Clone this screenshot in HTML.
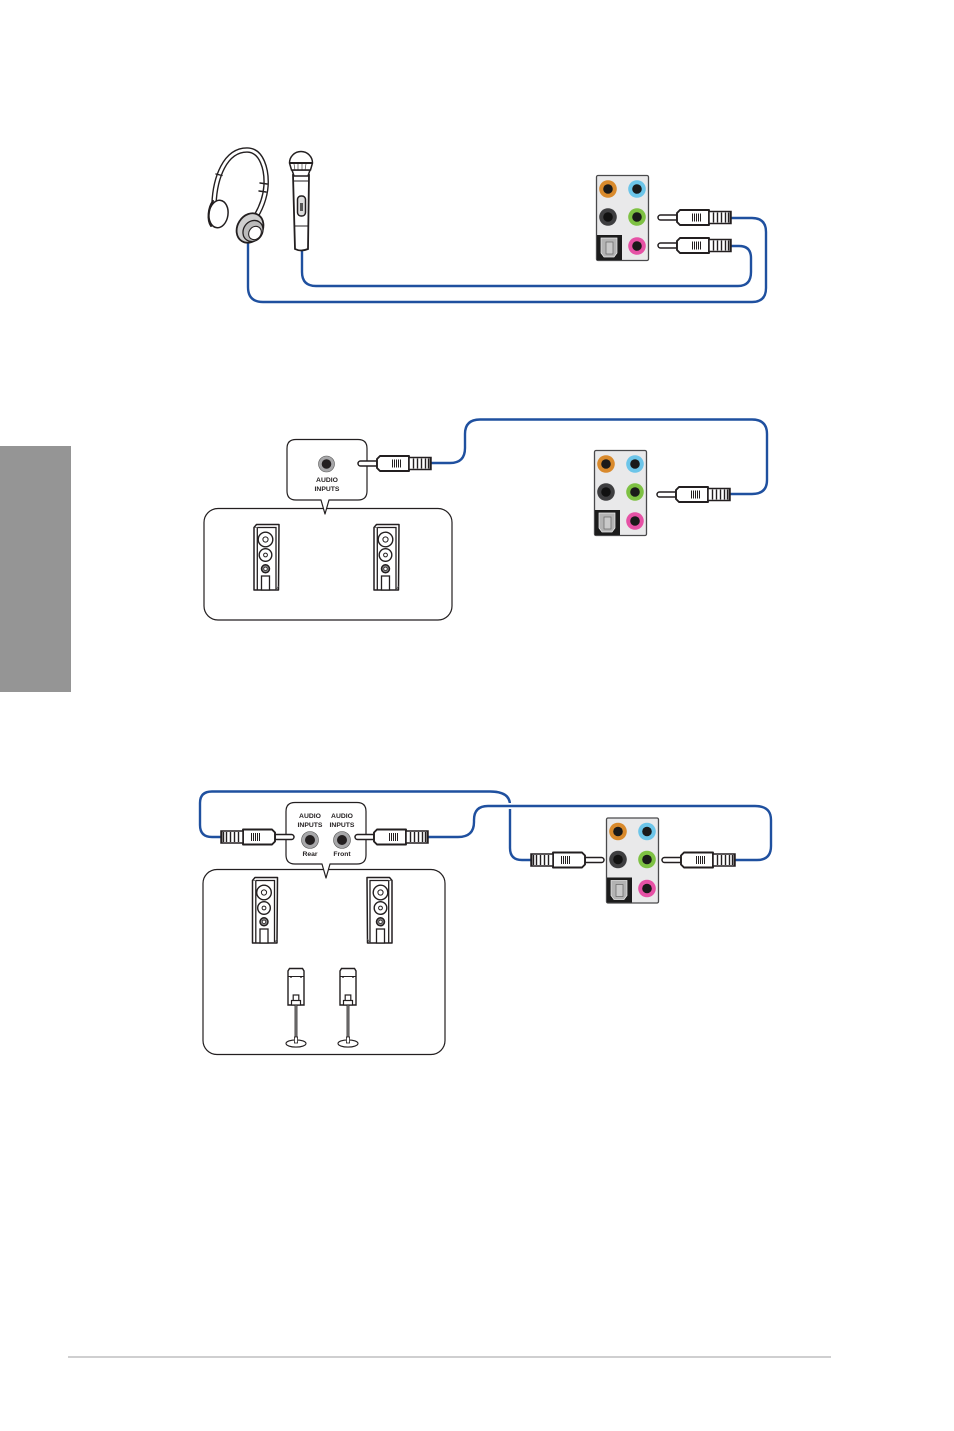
<!DOCTYPE html>
<html>
<head>
<meta charset="utf-8">
<style>
html,body{margin:0;padding:0;background:#fff;width:954px;height:1431px;overflow:hidden}
svg{display:block}
text{font-family:"Liberation Sans",sans-serif;font-weight:bold;font-size:6.8px;fill:#231f20;text-anchor:middle}
</style>
</head>
<body>
<svg width="954" height="1431" viewBox="0 0 954 1431" xmlns="http://www.w3.org/2000/svg">
<defs>
  <g id="panel">
    <rect x="0.5" y="0.5" width="52" height="85" rx="1.5" fill="#e9e9ea" stroke="#4a4a4c" stroke-width="1.3"/>
    <circle cx="12" cy="14" r="8.800" fill="#d98a2c"/><circle cx="12" cy="14" r="4.800" fill="#1a1a1a"/>
    <circle cx="41" cy="14" r="8.800" fill="#6cc5e9"/><circle cx="41" cy="14" r="4.800" fill="#1a1a1a"/>
    <circle cx="12" cy="42" r="8.800" fill="#3e3e40"/><circle cx="12" cy="42" r="4.800" fill="#111"/>
    <circle cx="41" cy="42" r="8.800" fill="#7ec143"/><circle cx="41" cy="42" r="4.800" fill="#1a1a1a"/>
    <circle cx="41" cy="71" r="8.800" fill="#e651a5"/><circle cx="41" cy="71" r="4.800" fill="#1a1a1a"/>
    <rect x="1" y="60" width="25" height="25" fill="#1c1c1c"/>
    <path d="M5 63H21V78L18 82H8L5 78Z" fill="#b3b3b3" stroke="#eee" stroke-width=".7"/>
    <rect x="10" y="67" width="7" height="12" fill="#c9c9c9" stroke="#666" stroke-width=".7"/>
  </g>
  <g id="plug">
    <path d="M2.500 -2.500H19V2.500H2.500A2.500 2.500 0 0 1 2.500 -2.500Z" fill="#fff" stroke="#231f20" stroke-width="1.500"/>
    <path d="M19 -4.500L22 -7.500H51V7.500H22L19 4.500Z" fill="#fff" stroke="#231f20" stroke-width="1.900" stroke-linejoin="round"/>
    <path d="M51 -6H73V6H51Z" fill="#fff" stroke="#231f20" stroke-width="1.500"/>
    <path d="M34.500 -4V4M36.500 -4V4M38.500 -4V4M40.500 -4V4M42.500 -4V4" stroke="#231f20" stroke-width="1"/>
    <path d="M55.500 -5V5M59.500 -5V5M63.500 -5V5M67.500 -5V5M70.500 -5V5" stroke="#231f20" stroke-width="1.400"/>
    <path d="M72.500 -6V6" stroke="#231f20" stroke-width="1.800"/>
  </g>
  <g id="tower">
    <path d="M3 0.500H25.500L25 66H0.500V3.500Z" fill="#fff" stroke="#231f20" stroke-width="1.500" stroke-linejoin="round"/>
    <path d="M3.800 3.500H22.500V66M3.800 3.500V66" fill="none" stroke="#231f20" stroke-width="1.300"/>
    <path d="M1 3.500H3.800M22.500 66L25 62" fill="none" stroke="#555" stroke-width=".8"/>
    <circle cx="12" cy="15.500" r="7.300" fill="#fff" stroke="#231f20" stroke-width="1.400"/><circle cx="12" cy="15.500" r="2.600" fill="#fff" stroke="#231f20"/>
    <circle cx="12" cy="31" r="6.300" fill="#fff" stroke="#231f20" stroke-width="1.400"/><circle cx="12" cy="31" r="1.900" fill="#fff" stroke="#231f20"/>
    <circle cx="12" cy="44.800" r="4" fill="#888" stroke="#231f20" stroke-width="1.500"/><circle cx="12" cy="44.800" r="1.700" fill="#fff" stroke="#231f20" stroke-width=".7"/>
    <rect x="8" y="52" width="8" height="14" fill="#fff" stroke="#231f20" stroke-width="1.300"/>
  </g>
  <g id="sat">
    <path d="M-8 37V3L-6.500 0.500H6.500L8 3V37Z" fill="#fff" stroke="#231f20" stroke-width="1.400"/>
    <path d="M-8 8.500H8" stroke="#231f20" stroke-width="1"/>
    <path d="M-6 9H-4M-5 8V10M4 9H6M5 8V10" stroke="#231f20" stroke-width=".8"/>
    <rect x="-2.800" y="27" width="5.600" height="6" fill="#fff" stroke="#231f20" stroke-width="1.200"/>
    <rect x="-4.500" y="32.500" width="9" height="4.500" fill="#fff" stroke="#231f20" stroke-width="1.200"/>
    <rect x="-1.100" y="37" width="2.200" height="33" fill="#777" stroke="#231f20" stroke-width=".6"/>
    <ellipse cx="0" cy="75.500" rx="10" ry="3.600" fill="#fff" stroke="#231f20" stroke-width="1.100"/>
    <rect x="-1.600" y="69" width="3.200" height="6" fill="#fff" stroke="#231f20" stroke-width=".8"/>
  </g>
</defs>

<rect x="0" y="446" width="71" height="246" fill="#959595"/>
<rect x="68" y="1356" width="763" height="2" fill="#cfcfd0"/>

<!-- Section 1 -->
<g fill="none" stroke="#1f509f" stroke-width="2.400">
  <path d="M248 240V287Q248 302 263 302H752Q766 302 766 288V232Q766 218 752 218H730"/>
  <path d="M302 250V272Q302 286 316 286H738Q751 286 751 272V258Q751 246 739 246H730"/>
</g>
<g stroke="#231f20" fill="none" stroke-linecap="round">
  <path d="M214 204C215 178 225 150 247 150C262 150 267 170 266 186C265 200 259 212 253 221" stroke-width="5.600"/>
  <path d="M214 204C215 178 225 150 247 150C262 150 267 170 266 186C265 200 259 212 253 221" stroke="#fff" stroke-width="2.800"/>
  <path d="M216 174L222 175.500M260 183L267 184M259 191L266 192" stroke-width="1.400"/>
  <ellipse cx="218.500" cy="214" rx="9.500" ry="13.800" transform="rotate(8 218.500 214)" fill="#fff" stroke-width="1.500"/>
  <path d="M213 201C208 208 207 220 211 226" stroke-width="2"/>
  <ellipse cx="250" cy="228" rx="12.500" ry="15.500" transform="rotate(32 250 228)" fill="#cfcfcf" stroke-width="1.800"/>
  <ellipse cx="253" cy="231" rx="9.500" ry="11" transform="rotate(35 253 231)" fill="#bbb" stroke-width="1.300"/>
  <ellipse cx="255" cy="233" rx="6" ry="7" transform="rotate(35 255 233)" fill="#fff" stroke-width="1.100"/>
</g>
<g stroke="#231f20" stroke-width="1.500" fill="#fff">
  <path d="M293 175H309L308 249Q301 252 295 249Z" stroke-width="1.800"/>
  <path d="M292 170L294 176H308L310 170Z"/>
  <path d="M289.500 163A11.500 11.500 0 0 1 312.500 163L310.500 170H291.500Z" fill="#fff"/>
  <path d="M290 163H312" stroke-width="2"/>
  <path d="M294 164L295 170M298 164V170M302 164V170M306 164L305 170" stroke-width=".6"/>
  <path d="M293.500 181H308.500M294 226H308" stroke-width="1"/>
  <rect x="297.500" y="196" width="8" height="20" rx="3.500" fill="#ddd"/>
  <rect x="300" y="203" width="3" height="8" fill="#555" stroke="none"/>
</g>
<use href="#panel" x="596" y="175"/>
<use href="#plug" x="658" y="217.500"/>
<use href="#plug" x="658" y="245.500"/>

<!-- Section 2 -->
<rect x="204" y="508.500" width="248" height="111.500" rx="14" fill="#fff" stroke="#231f20" stroke-width="1.200"/>
<path d="M296 439.500H358Q367 439.500 367 448.500V491Q367 500 358 500H329L325 514L321 500H296Q287 500 287 491V448.500Q287 439.500 296 439.500Z" fill="#fff" stroke="#231f20" stroke-width="1.200" stroke-linejoin="round"/>
<circle cx="326.500" cy="464" r="8" fill="#a7a7a9" stroke="#555" stroke-width=".6"/><circle cx="326.500" cy="464" r="4.800" fill="#231f20"/>
<text x="327" y="482">AUDIO</text>
<text x="327" y="491">INPUTS</text>
<g fill="none" stroke="#1f509f" stroke-width="2.400">
  <path d="M430 463H450Q465 463 465 448V434Q465 419.500 480 419.500H752Q767 419.500 767 434V480Q767 494 752 494H729"/>
</g>
<use href="#plug" x="358" y="463.500"/>
<use href="#panel" x="594" y="450"/>
<use href="#plug" x="657" y="494.500"/>
<use href="#tower" x="253.500" y="524"/>
<use href="#tower" x="373.500" y="524"/>

<!-- Section 3 -->
<rect x="203" y="869.500" width="242" height="185" rx="14" fill="#fff" stroke="#231f20" stroke-width="1.200"/>
<path d="M295 802.500H357Q366 802.500 366 811.500V855Q366 864 357 864H330L326 878L322 864H295Q286 864 286 855V811.500Q286 802.500 295 802.500Z" fill="#fff" stroke="#231f20" stroke-width="1.200" stroke-linejoin="round"/>
<text x="310" y="818">AUDIO</text>
<text x="310" y="827">INPUTS</text>
<text x="342" y="818">AUDIO</text>
<text x="342" y="827">INPUTS</text>
<text x="310" y="856">Rear</text>
<text x="342" y="856">Front</text>
<circle cx="310" cy="840" r="8.500" fill="#a7a7a9" stroke="#555" stroke-width=".6"/><circle cx="310" cy="840" r="5" fill="#231f20"/>
<circle cx="342" cy="840" r="8.500" fill="#a7a7a9" stroke="#555" stroke-width=".6"/><circle cx="342" cy="840" r="5" fill="#231f20"/>
<g fill="none" stroke-width="2.400">
  <path d="M222 837H212Q200 837 200 825V803Q200 791.500 212 791.500H490Q510 791.500 510 805V848Q510 860 522 860H532" stroke="#1f509f"/>
  <path d="M474 825V820Q474 806 488 806H755" stroke="#fff" stroke-width="6"/>
  <path d="M427 837H458Q474 837 474 822V820Q474 806 488 806H755Q771 806 771 820V846Q771 860 757 860H734" stroke="#1f509f"/>
</g>
<g transform="translate(294 837) scale(-1 1)"><use href="#plug"/></g>
<use href="#plug" x="355" y="837"/>
<use href="#panel" x="606" y="817.500"/>
<g transform="translate(604 860) scale(-1 1)"><use href="#plug"/></g>
<use href="#plug" x="662" y="860"/>
<use href="#tower" x="252" y="877"/>
<g transform="translate(392.500 877) scale(-1 1)"><use href="#tower"/></g>
<use href="#sat" x="296" y="968"/>
<use href="#sat" x="348" y="968"/>
</svg>
</body>
</html>
